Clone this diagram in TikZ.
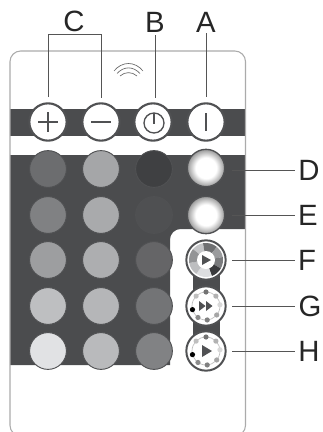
\documentclass[tikz,border=0pt]{standalone}
\usepackage{fontspec}
\setmainfont{Liberation Sans}
\definecolor{dk}{HTML}{4B4C4E}
\definecolor{ringc}{HTML}{505153}
\definecolor{bodyc}{HTML}{ABABAB}
\definecolor{leadc}{HTML}{555555}
\pgfdeclareradialshading{glowsh}{\pgfpoint{0bp}{0bp}}{color(0bp)=(white); color(14bp)=(white); color(25bp)=(black!40); color(50bp)=(black!40)}
\tikzset{
  letter/.style={font=\fontsize{22}{22}\selectfont,text=black!85,inner sep=0pt},
  lead/.style={draw=leadc,line width=0.7pt},
  topbtn/.style={circle,draw=ringc,line width=1.6pt,fill=white,minimum size=28pt,inner sep=0pt,outer sep=0pt},
  led/.style={circle,draw=ringc,line width=0.7pt,minimum size=27.6pt,inner sep=0pt,outer sep=0pt},
  glow/.style={circle,draw=ringc,line width=1pt,minimum size=28pt,inner sep=0pt,outer sep=0pt,shading=glowsh},
  glyph/.style={draw=ringc,line width=1pt},
  modebtn/.style={circle,draw=ringc,line width=1.5pt,fill=white,minimum size=29.5pt,inner sep=0pt,outer sep=0pt}
}
\begin{document}
\begin{tikzpicture}[x=0.75pt,y=-0.75pt]
\useasboundingbox (0,0) rectangle (323,432);
% dark panels
\fill[dk] (10,109) rectangle (245.5,136);
\fill[dk] (10,155) -- (245.5,155) -- (245.5,229) [rounded corners=8pt] -- (170,229) [sharp corners] -- (170,365) -- (10,365) -- cycle;
\fill[dk] (193,260) rectangle (220,340);
% remote outline
\draw[bodyc,line width=0.8pt,rounded corners=8pt] (10,51) rectangle (245.5,436);
% wifi
\draw[black!60,line width=0.5pt] (114,71) .. controls (122,61) and (135,61) .. (143,71);
\draw[black!60,line width=0.5pt] (117,73.5) .. controls (124,66) and (133,66) .. (140,73.5);
\draw[black!60,line width=0.5pt] (120,76) .. controls (125,71.5) and (132,71.5) .. (137,76);
% top buttons
\node[topbtn] (plus) at (48,122) {};
\node[topbtn] (minus) at (101,122) {};
\node[topbtn] (power) at (153,122) {};
\node[topbtn] (on) at (206,122) {};
\draw[glyph] (38,122) -- (58,122) (48,112) -- (48,132);
\draw[glyph] (91,122) -- (111,122);
\draw[glyph] (154,123) circle[radius=10];
\draw[glyph] (154,113) -- (154,124);
\draw[glyph] (206,113) -- (206,131);
% LED grid
\foreach \nm/\xx/\yy/\cc in {a1/48/169/6C6D6F,b1/101/169/A5A6A8,c1/154/169/3F4042,
  a2/48/215/808183,b2/101/215/A9AAAC,c2/154/215/4F5052,
  a3/48/260/9D9EA0,b3/101/260/ADAEB0,c3/154/260/656567,
  a4/48/306/BEBFC1,b4/101/306/B5B6B8,c4/154/306/737476,
  a5/48/351/E1E2E4,b5/101/351/B9BABC,c5/154/351/818284}{
  \definecolor{tmpc}{HTML}{\cc}
  \node[led,fill=tmpc] (\nm) at (\xx,\yy) {};
}
% glow buttons
\node[glow] (D) at (206,168) {};
\node[glow] (E) at (206,215) {};
% mode buttons
\node[modebtn] (F) at (206,260) {};
\foreach \s/\e/\cc in {-140/-100/C4C5C7,-100/-50/6F7072,-50/-10/9A9B9D,-10/30/7A7B7D,30/70/3A3B3D,70/125/DDDEE0,125/170/BDBEC0,170/220/939496}{
  \definecolor{tmpc}{HTML}{\cc}
  \fill[tmpc] (206,260) -- ++(\s:17) arc[start angle=\s,end angle=\e,radius=17] -- cycle;
}
\fill[white] (206,260) circle[radius=9];
\fill[ringc] (202,255) -- (211,260) -- (202,265) -- cycle;
\node[modebtn] (G) at (206,306) {};
\node[modebtn] (H) at (206,351) {};
\foreach \cy in {306,351}{
  \draw[black!25,line width=0.5pt] (206,\cy) circle[radius=14];
  \foreach \a/\g in {-90/55,-45/30,-5/15,40/35,85/50,125/45,165/100,-135/25}{
    \fill[black!\g] (206,\cy) ++(\a:14) circle[radius=2.6];
  }
}
\fill[ringc] (199,301) -- (205.5,306) -- (199,311) -- cycle;
\fill[ringc] (206,301) -- (212.5,306) -- (206,311) -- cycle;
\fill[ringc] (202,345) -- (212,351) -- (202,357) -- cycle;
% letters
\coordinate (cL) at (48,34);
\coordinate (cR) at (101,34);
\node[letter] (lC) at (74,21) {C};
\node[letter] (lB) at (155,22) {B};
\node[letter] (lA) at (206,22) {A};
\node[letter] (lD) at (309,170) {D};
\node[letter] (lE) at (308,215) {E};
\node[letter] (lF) at (307,260) {F};
\node[letter] (lG) at (310,306) {G};
\node[letter] (lH) at (309,351) {H};
% leaders
\coordinate (bT) at (155,35);
\coordinate (aT) at (206,33);
\coordinate (dS) at (232,170);
\coordinate (eS) at (232,215);
\coordinate (fS) at (232,260);
\coordinate (gS) at (232,306);
\coordinate (hS) at (232,351);
\coordinate (dT) at (295,170);
\coordinate (eT) at (295,215);
\coordinate (fT) at (295,260);
\coordinate (gT) at (295,306);
\coordinate (hT) at (295,351);
\draw[lead] (48,97) -- (cL) -- (cR) -- (101,98);
\draw[lead] (bT) -- (155,98);
\draw[lead] (aT) -- (206,97);
\draw[lead] (dS) -- (dT);
\draw[lead] (eS) -- (eT);
\draw[lead] (fS) -- (fT);
\draw[lead] (gS) -- (gT);
\draw[lead] (hS) -- (hT);
\end{tikzpicture}
\end{document}
